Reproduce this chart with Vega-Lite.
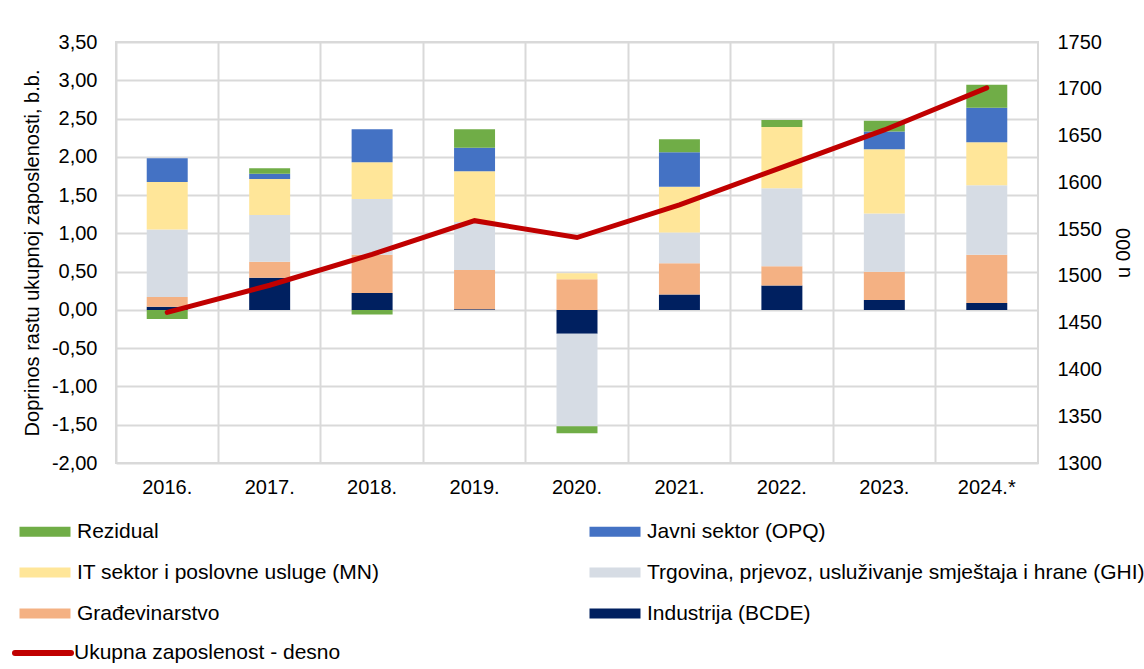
{
  "$schema": "https://vega.github.io/schema/vega-lite/v6.json",
  "width": 922,
  "height": 421,
  "autosize": {"type": "none"},
  "padding": {"left": 116, "top": 42, "right": 106, "bottom": 206},
  "background": "#ffffff",
  "config": {
    "font": "Liberation Sans",
    "view": {"stroke": "#d9d9d9", "strokeWidth": 2},
    "axis": {
      "labelFont": "Liberation Sans",
      "titleFont": "Liberation Sans",
      "labelColor": "#000000",
      "titleColor": "#000000",
      "labelFontSize": 20,
      "titleFontSize": 20,
      "titleFontWeight": "normal",
      "ticks": false,
      "domain": false,
      "gridColor": "#d9d9d9",
      "gridWidth": 2
    },
    "legend": {
      "labelFont": "Liberation Sans",
      "labelFontSize": 21,
      "labelColor": "#000000",
      "padding": 0,
      "labelLimit": 600
    }
  },
  "layer": [
    {
      "data": {
        "values": [
          {"godina": "2016.", "sektor": "Industrija (BCDE)", "vrijednost": 0.04},
          {"godina": "2016.", "sektor": "Građevinarstvo", "vrijednost": 0.13},
          {"godina": "2016.", "sektor": "Trgovina, prjevoz, usluživanje smještaja i hrane (GHI)", "vrijednost": 0.88},
          {"godina": "2016.", "sektor": "IT sektor i poslovne usluge (MN)", "vrijednost": 0.62},
          {"godina": "2016.", "sektor": "Javni sektor (OPQ)", "vrijednost": 0.31},
          {"godina": "2016.", "sektor": "Rezidual", "vrijednost": -0.12},
          {"godina": "2017.", "sektor": "Industrija (BCDE)", "vrijednost": 0.42},
          {"godina": "2017.", "sektor": "Građevinarstvo", "vrijednost": 0.21},
          {"godina": "2017.", "sektor": "Trgovina, prjevoz, usluživanje smještaja i hrane (GHI)", "vrijednost": 0.61},
          {"godina": "2017.", "sektor": "IT sektor i poslovne usluge (MN)", "vrijednost": 0.47},
          {"godina": "2017.", "sektor": "Javni sektor (OPQ)", "vrijednost": 0.07},
          {"godina": "2017.", "sektor": "Rezidual", "vrijednost": 0.07},
          {"godina": "2018.", "sektor": "Industrija (BCDE)", "vrijednost": 0.22},
          {"godina": "2018.", "sektor": "Građevinarstvo", "vrijednost": 0.50},
          {"godina": "2018.", "sektor": "Trgovina, prjevoz, usluživanje smještaja i hrane (GHI)", "vrijednost": 0.73},
          {"godina": "2018.", "sektor": "IT sektor i poslovne usluge (MN)", "vrijednost": 0.48},
          {"godina": "2018.", "sektor": "Javni sektor (OPQ)", "vrijednost": 0.43},
          {"godina": "2018.", "sektor": "Rezidual", "vrijednost": -0.06},
          {"godina": "2019.", "sektor": "Industrija (BCDE)", "vrijednost": 0.01},
          {"godina": "2019.", "sektor": "Građevinarstvo", "vrijednost": 0.51},
          {"godina": "2019.", "sektor": "Trgovina, prjevoz, usluživanje smještaja i hrane (GHI)", "vrijednost": 0.63},
          {"godina": "2019.", "sektor": "IT sektor i poslovne usluge (MN)", "vrijednost": 0.66},
          {"godina": "2019.", "sektor": "Javni sektor (OPQ)", "vrijednost": 0.31},
          {"godina": "2019.", "sektor": "Rezidual", "vrijednost": 0.24},
          {"godina": "2020.", "sektor": "Industrija (BCDE)", "vrijednost": -0.31},
          {"godina": "2020.", "sektor": "Građevinarstvo", "vrijednost": 0.40},
          {"godina": "2020.", "sektor": "Trgovina, prjevoz, usluživanje smještaja i hrane (GHI)", "vrijednost": -1.21},
          {"godina": "2020.", "sektor": "IT sektor i poslovne usluge (MN)", "vrijednost": 0.08},
          {"godina": "2020.", "sektor": "Javni sektor (OPQ)", "vrijednost": 0.0},
          {"godina": "2020.", "sektor": "Rezidual", "vrijednost": -0.09},
          {"godina": "2021.", "sektor": "Industrija (BCDE)", "vrijednost": 0.20},
          {"godina": "2021.", "sektor": "Građevinarstvo", "vrijednost": 0.41},
          {"godina": "2021.", "sektor": "Trgovina, prjevoz, usluživanje smještaja i hrane (GHI)", "vrijednost": 0.40},
          {"godina": "2021.", "sektor": "IT sektor i poslovne usluge (MN)", "vrijednost": 0.60},
          {"godina": "2021.", "sektor": "Javni sektor (OPQ)", "vrijednost": 0.45},
          {"godina": "2021.", "sektor": "Rezidual", "vrijednost": 0.17},
          {"godina": "2022.", "sektor": "Industrija (BCDE)", "vrijednost": 0.32},
          {"godina": "2022.", "sektor": "Građevinarstvo", "vrijednost": 0.25},
          {"godina": "2022.", "sektor": "Trgovina, prjevoz, usluživanje smještaja i hrane (GHI)", "vrijednost": 1.02},
          {"godina": "2022.", "sektor": "IT sektor i poslovne usluge (MN)", "vrijednost": 0.80},
          {"godina": "2022.", "sektor": "Javni sektor (OPQ)", "vrijednost": 0.0},
          {"godina": "2022.", "sektor": "Rezidual", "vrijednost": 0.09},
          {"godina": "2023.", "sektor": "Industrija (BCDE)", "vrijednost": 0.13},
          {"godina": "2023.", "sektor": "Građevinarstvo", "vrijednost": 0.37},
          {"godina": "2023.", "sektor": "Trgovina, prjevoz, usluživanje smještaja i hrane (GHI)", "vrijednost": 0.76},
          {"godina": "2023.", "sektor": "IT sektor i poslovne usluge (MN)", "vrijednost": 0.84},
          {"godina": "2023.", "sektor": "Javni sektor (OPQ)", "vrijednost": 0.23},
          {"godina": "2023.", "sektor": "Rezidual", "vrijednost": 0.14},
          {"godina": "2024.*", "sektor": "Industrija (BCDE)", "vrijednost": 0.09},
          {"godina": "2024.*", "sektor": "Građevinarstvo", "vrijednost": 0.63},
          {"godina": "2024.*", "sektor": "Trgovina, prjevoz, usluživanje smještaja i hrane (GHI)", "vrijednost": 0.91},
          {"godina": "2024.*", "sektor": "IT sektor i poslovne usluge (MN)", "vrijednost": 0.56},
          {"godina": "2024.*", "sektor": "Javni sektor (OPQ)", "vrijednost": 0.45},
          {"godina": "2024.*", "sektor": "Rezidual", "vrijednost": 0.30}
        ]
      },
      "transform": [
        {"calculate": "indexof(['Industrija (BCDE)','Građevinarstvo','Trgovina, prjevoz, usluživanje smještaja i hrane (GHI)','IT sektor i poslovne usluge (MN)','Javni sektor (OPQ)','Rezidual'], datum.sektor)", "as": "redoslijed"}
      ],
      "mark": {"type": "bar", "width": {"band": 0.4}},
      "encoding": {
        "x": {
          "field": "godina",
          "type": "nominal",
          "sort": null,
          "scale": {"paddingInner": 0, "paddingOuter": 0},
          "axis": {
            "title": null,
            "labelAngle": 0,
            "labelPadding": 14,
            "grid": true,
            "bandPosition": 0
          }
        },
        "y": {
          "field": "vrijednost",
          "type": "quantitative",
          "stack": "zero",
          "scale": {"domain": [-2, 3.5], "nice": false, "zero": false},
          "axis": {
            "title": "Doprinos rastu ukupnoj zaposlenosti, b.b.",
            "values": [-2, -1.5, -1, -0.5, 0, 0.5, 1, 1.5, 2, 2.5, 3, 3.5],
            "labelExpr": "replace(replace(format(datum.value, '.2f'), '.', ','), '\u2212', '-')",
            "labelPadding": 19,
            "titlePadding": 9,
            "grid": true
          }
        },
        "color": {
          "field": "sektor",
          "type": "nominal",
          "scale": {
            "domain": ["Rezidual", "Javni sektor (OPQ)", "IT sektor i poslovne usluge (MN)", "Trgovina, prjevoz, usluživanje smještaja i hrane (GHI)", "Građevinarstvo", "Industrija (BCDE)"],
            "range": ["#70AD47", "#4472C4", "#FFE699", "#D6DCE4", "#F4B183", "#002060"]
          },
          "legend": {
            "title": null,
            "orient": "none",
            "direction": "horizontal",
            "legendX": -102,
            "legendY": 479,
            "columns": 2,
            "columnPadding": 204,
            "rowPadding": 19,
            "symbolType": "M-1,-1H9.2V1H-1Z",
            "symbolSize": 100,
            "symbolStrokeWidth": 0,
            "labelOffset": 42
          }
        },
        "order": {"field": "redoslijed", "type": "quantitative", "sort": "ascending"}
      }
    },
    {
      "data": {
        "values": [
          {"godina": "2016.", "serija": "Ukupna zaposlenost - desno", "zaposlenost": 1461},
          {"godina": "2017.", "serija": "Ukupna zaposlenost - desno", "zaposlenost": 1490},
          {"godina": "2018.", "serija": "Ukupna zaposlenost - desno", "zaposlenost": 1523},
          {"godina": "2019.", "serija": "Ukupna zaposlenost - desno", "zaposlenost": 1559},
          {"godina": "2020.", "serija": "Ukupna zaposlenost - desno", "zaposlenost": 1541},
          {"godina": "2021.", "serija": "Ukupna zaposlenost - desno", "zaposlenost": 1576},
          {"godina": "2022.", "serija": "Ukupna zaposlenost - desno", "zaposlenost": 1616},
          {"godina": "2023.", "serija": "Ukupna zaposlenost - desno", "zaposlenost": 1656},
          {"godina": "2024.*", "serija": "Ukupna zaposlenost - desno", "zaposlenost": 1701}
        ]
      },
      "mark": {"type": "line", "strokeWidth": 5, "strokeCap": "round", "strokeJoin": "miter"},
      "encoding": {
        "x": {"field": "godina", "type": "nominal", "sort": null},
        "y": {
          "field": "zaposlenost",
          "type": "quantitative",
          "scale": {"domain": [1300, 1750], "nice": false, "zero": false},
          "axis": {
            "orient": "right",
            "title": "u 000",
            "titleAngle": 270,
            "titleBaseline": "top",
            "values": [1300, 1350, 1400, 1450, 1500, 1550, 1600, 1650, 1700, 1750],
            "format": "d",
            "labelPadding": 19,
            "titlePadding": 12,
            "grid": false
          }
        },
        "stroke": {
          "field": "serija",
          "type": "nominal",
          "scale": {"range": ["#C00000"]},
          "legend": {
            "title": null,
            "orient": "none",
            "legendX": -104,
            "legendY": 580,
            "symbolType": "stroke",
            "symbolSize": 3136,
            "symbolStrokeWidth": 6,
            "labelOffset": 0,
            "encode": {"symbols": {"update": {"strokeCap": {"value": "round"}}}}
          }
        }
      }
    }
  ],
  "resolve": {"scale": {"y": "independent"}}
}
